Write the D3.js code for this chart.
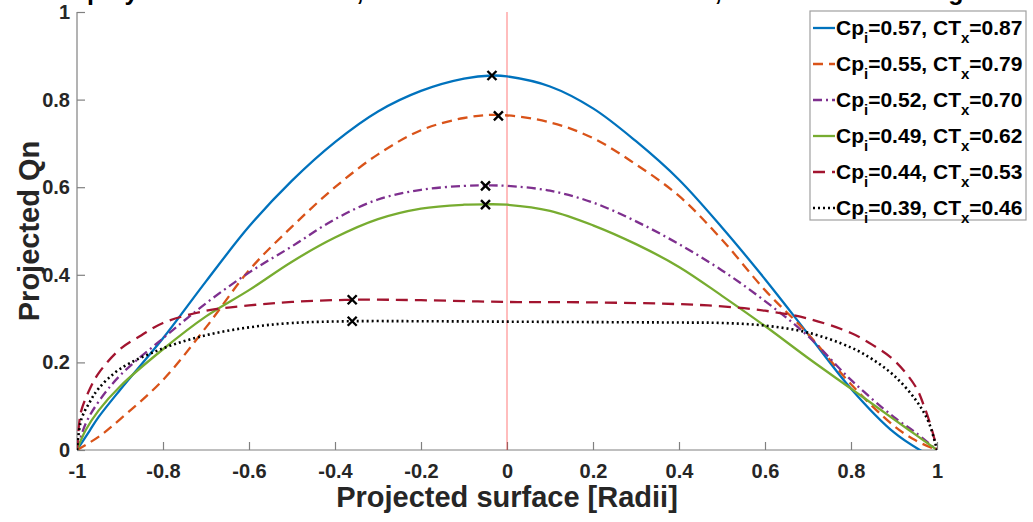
<!DOCTYPE html>
<html>
<head>
<meta charset="utf-8">
<script src="https://cdn.jsdelivr.net/npm/d3@7"></script>
<style>
  body { margin: 0; background: #fff; }
  text { font-family: "Liberation Sans", Arial, sans-serif; font-weight: bold; }
</style>
</head>
<body>
<script>
// series: x positions (radii) and Qn values
var xBlue   = [-1, -0.97, -0.95, -0.9, -0.8, -0.7, -0.6, -0.5, -0.4, -0.3, -0.2, -0.1, -0.035, 0, 0.1, 0.2, 0.3, 0.4, 0.5, 0.6, 0.7, 0.8, 0.9, 0.96, 1]
var qBlue   = [0, 0.045, 0.075, 0.137, 0.255, 0.385, 0.51, 0.615, 0.703, 0.773, 0.82, 0.848, 0.855, 0.853, 0.83, 0.78, 0.705, 0.617, 0.508, 0.39, 0.265, 0.14, 0.04, 0, -0.02]

var xOrange = [-1, -0.95, -0.9, -0.8, -0.7, -0.6, -0.5, -0.4, -0.3, -0.2, -0.1, -0.02, 0.1, 0.2, 0.3, 0.4, 0.5, 0.6, 0.7, 0.8, 0.9, 0.95, 1]
var qOrange = [0, 0.03, 0.07, 0.16, 0.28, 0.41, 0.51, 0.6, 0.675, 0.73, 0.758, 0.765, 0.748, 0.712, 0.652, 0.58, 0.48, 0.365, 0.265, 0.15, 0.055, 0.022, 0]

var xPurple = [-1, -0.98, -0.95, -0.9, -0.8, -0.7, -0.6, -0.5, -0.4, -0.3, -0.2, -0.1, -0.05, 0, 0.1, 0.2, 0.3, 0.4, 0.5, 0.6, 0.7, 0.8, 0.9, 0.95, 1]
var qPurple = [0, 0.06, 0.11, 0.17, 0.255, 0.335, 0.405, 0.465, 0.527, 0.572, 0.594, 0.603, 0.604, 0.603, 0.592, 0.565, 0.522, 0.47, 0.41, 0.34, 0.26, 0.16, 0.075, 0.04, 0]

var xGreen  = [-1, -0.98, -0.95, -0.9, -0.8, -0.7, -0.6, -0.5, -0.4, -0.3, -0.2, -0.1, -0.05, 0, 0.1, 0.2, 0.3, 0.4, 0.5, 0.6, 0.7, 0.8, 0.9, 0.95, 1]
var qGreen  = [0, 0.045, 0.09, 0.145, 0.23, 0.305, 0.365, 0.43, 0.485, 0.527, 0.551, 0.56, 0.561, 0.56, 0.546, 0.513, 0.47, 0.418, 0.352, 0.283, 0.21, 0.14, 0.07, 0.035, 0]

var xRed    = [-1, -0.995, -0.99, -0.97, -0.95, -0.9, -0.85, -0.8, -0.7, -0.6, -0.5, -0.36, -0.2, 0, 0.2, 0.4, 0.5, 0.6, 0.7, 0.8, 0.85, 0.9, 0.95, 0.97, 0.99, 1]
var qRed    = [0, 0.06, 0.09, 0.14, 0.175, 0.23, 0.262, 0.29, 0.318, 0.33, 0.338, 0.343, 0.342, 0.338, 0.337, 0.333, 0.328, 0.318, 0.3, 0.267, 0.24, 0.205, 0.145, 0.1, 0.04, 0]

var xBlack  = [-1, -0.99, -0.97, -0.95, -0.9, -0.8, -0.7, -0.6, -0.5, -0.36, -0.2, 0, 0.2, 0.4, 0.5, 0.6, 0.7, 0.8, 0.85, 0.9, 0.95, 0.98, 1]
var qBlack  = [0, 0.07, 0.11, 0.14, 0.185, 0.232, 0.262, 0.28, 0.29, 0.294, 0.294, 0.293, 0.292, 0.291, 0.29, 0.284, 0.268, 0.234, 0.207, 0.17, 0.115, 0.065, 0]

// peak markers (x, Qn)
var peakX = [-0.035, -0.02, -0.05, -0.05, -0.36, -0.36]
var peakQ = [0.855, 0.763, 0.603, 0.56, 0.343, 0.294]

var cpLabels = ["0.57", "0.55", "0.52", "0.49", "0.44", "0.39"]
var ctLabels = ["0.87", "0.79", "0.70", "0.62", "0.53", "0.46"]

var xTicks = [-1, -0.8, -0.6, -0.4, -0.2, 0, 0.2, 0.4, 0.6, 0.8, 1]
var yTicks = [0, 0.2, 0.4, 0.6, 0.8, 1]

var w = 1033, h = 522
var mLeft = 77, mRight = 937, mTop = 12, mBottom = 450

var lineStyles = [
  { color: "#0072BD", dash: null },
  { color: "#D95319", dash: "10,6" },
  { color: "#7E2F8E", dash: "9,4,2,4" },
  { color: "#77AC30", dash: null },
  { color: "#A2142F", dash: "12,7" },
  { color: "#000000", dash: "2,3" }
]

var seriesX = [xBlue, xOrange, xPurple, xGreen, xRed, xBlack]
var seriesQ = [qBlue, qOrange, qPurple, qGreen, qRed, qBlack]

var xScale = d3.scaleLinear().domain([-1, 1]).range([mLeft, mRight])
var yScale = d3.scaleLinear().domain([0, 1]).range([mBottom, mTop])

function tickText(d) { return String(+d.toFixed(1)) }

var svg = d3.select("body").append("svg")
  .attr("width", w)
  .attr("height", h)

svg.append("defs").append("clipPath").attr("id", "plotclip")
  .append("rect")
  .attr("x", mLeft).attr("y", mTop)
  .attr("width", mRight - mLeft).attr("height", mBottom - mTop)

// title, almost all of it above the window (only descenders show)
svg.append("text")
  .attr("x", 55)
  .attr("y", 0)
  .attr("font-size", 25)
  .attr("fill", "#000")
  .text("Deployed turbine at rated, constant tether tension force, varied rotor loading")

// axes
var xAxis = svg.append("g")
  .attr("transform", "translate(0," + mBottom + ")")
  .call(d3.axisBottom(xScale).tickValues(xTicks).tickSize(-8).tickPadding(14).tickFormat(tickText))
var yAxis = svg.append("g")
  .attr("transform", "translate(" + mLeft + ",0)")
  .call(d3.axisLeft(yScale).tickValues(yTicks).tickSize(-8).tickPadding(7).tickFormat(tickText))

;[xAxis, yAxis].forEach(function(ax) {
  ax.select(".domain").attr("stroke", "#808080").attr("stroke-width", 1.2)
  ax.selectAll(".tick line").attr("stroke", "#808080").attr("stroke-width", 1.2)
  ax.selectAll(".tick text")
    .attr("fill", "#262626")
    .attr("font-size", 20)
    .attr("font-family", "Liberation Sans, Arial, sans-serif")
    .attr("font-weight", "bold")
})
xAxis.select(".domain").attr("d", "M" + mLeft + ",0H" + mRight)
yAxis.select(".domain").attr("d", "M0," + mBottom + "V" + mTop)

svg.append("text")
  .attr("x", (mLeft + mRight) / 2)
  .attr("y", 507)
  .attr("text-anchor", "middle")
  .attr("font-size", 29)
  .attr("fill", "#262626")
  .text("Projected surface [Radii]")

svg.append("text")
  .attr("transform", "translate(39," + ((mBottom + mTop) / 2) + ") rotate(-90)")
  .attr("text-anchor", "middle")
  .attr("font-size", 29)
  .attr("fill", "#262626")
  .text("Projected Qn")

var plot = svg.append("g").attr("clip-path", "url(#plotclip)")

// x = 0 reference line
plot.append("line")
  .attr("x1", xScale(0)).attr("x2", xScale(0))
  .attr("y1", yScale(1)).attr("y2", yScale(0))
  .attr("stroke", "#ff0000")
  .attr("stroke-opacity", 0.35)
  .attr("stroke-width", 1.5)

var line = d3.line()
  .x(function(d) { return xScale(d[0]) })
  .y(function(d) { return yScale(d[1]) })
  .curve(d3.curveCatmullRom.alpha(0.5))

seriesX.forEach(function(xs, i) {
  var pts = xs.map(function(x, j) { return [x, seriesQ[i][j]] })
  plot.append("path")
    .datum(pts)
    .attr("d", line)
    .attr("fill", "none")
    .attr("stroke", lineStyles[i].color)
    .attr("stroke-width", i == 5 ? 2.6 : 2.3)
    .attr("stroke-dasharray", lineStyles[i].dash)
})

// peak markers
var mk = 4.5
peakX.forEach(function(px, i) {
  var cx = xScale(px), cy = yScale(peakQ[i])
  svg.append("path")
    .attr("d", "M" + (cx - mk) + "," + (cy - mk) + "L" + (cx + mk) + "," + (cy + mk) +
               "M" + (cx - mk) + "," + (cy + mk) + "L" + (cx + mk) + "," + (cy - mk))
    .attr("stroke", "#000")
    .attr("stroke-width", 2.4)
})

// legend
var lgX = 810, lgY = 11, lgW = 216, lgH = 209, rowH = 36
var legend = svg.append("g")
legend.append("rect")
  .attr("x", lgX).attr("y", lgY).attr("width", lgW).attr("height", lgH)
  .attr("fill", "#fff").attr("stroke", "#a0a0a0").attr("stroke-width", 1.2)

cpLabels.forEach(function(cp, i) {
  var cy = lgY + 17 + i * rowH
  legend.append("line")
    .attr("x1", lgX + 3).attr("x2", lgX + 25)
    .attr("y1", cy).attr("y2", cy)
    .attr("stroke", lineStyles[i].color)
    .attr("stroke-width", 2.3)
    .attr("stroke-dasharray", lineStyles[i].dash)
  var t = legend.append("text")
    .attr("x", lgX + 26).attr("y", cy + 7)
    .attr("font-size", 21)
    .attr("fill", "#000")
  t.append("tspan").text("Cp")
  t.append("tspan").attr("font-size", 15).attr("dy", 8).text("i")
  t.append("tspan").attr("dy", -8).text("=" + cp + ", CT")
  t.append("tspan").attr("font-size", 15).attr("dy", 8).text("x")
  t.append("tspan").attr("dy", -8).text("=" + ctLabels[i])
})
</script>
</body>
</html>
